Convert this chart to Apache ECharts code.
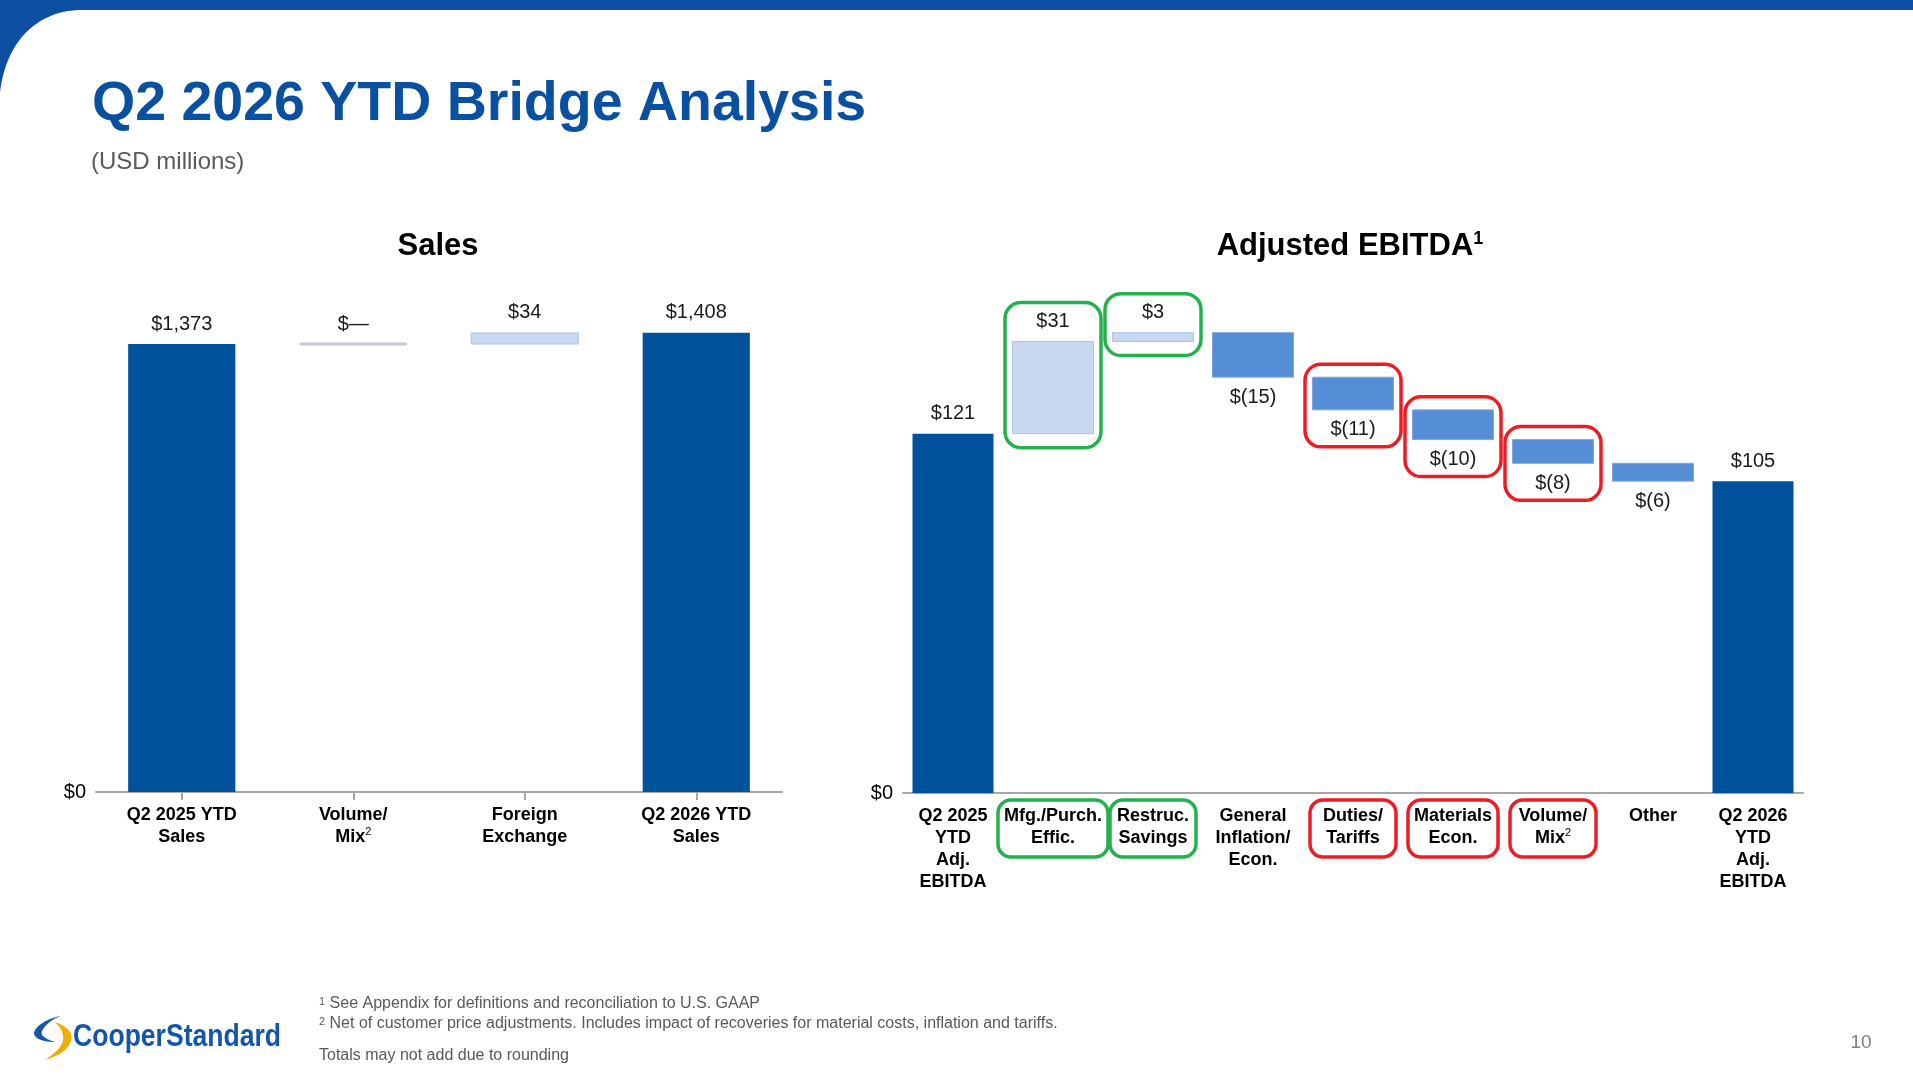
<!DOCTYPE html>
<html>
<head>
<meta charset="utf-8">
<script src="https://cdn.jsdelivr.net/npm/echarts@6/dist/echarts.min.js"></script>
<style>
html,body{margin:0;padding:0;background:#fff;}
#c{width:1913px;height:1074px;}
</style>
</head>
<body>
<div id="c"></div>
<script>
// ---------------- DATA ----------------
const salesCategories = ['Q2 2025 YTD\nSales', 'Volume/\nMix', 'Foreign\nExchange', 'Q2 2026 YTD\nSales'];
const salesFootnoteMarks = ['', '2', '', ''];
const salesStart = 1373;
const salesChanges = [0, 34];
const salesEnd = 1408;

const ebitdaCategories = ['Q2 2025\nYTD\nAdj.\nEBITDA', 'Mfg./Purch.\nEffic.', 'Restruc.\nSavings', 'General\nInflation/\nEcon.', 'Duties/\nTariffs', 'Materials\nEcon.', 'Volume/\nMix', 'Other', 'Q2 2026\nYTD\nAdj.\nEBITDA'];
const ebitdaFootnoteMarks = ['', '', '', '', '', '', '2', '', ''];
const ebitdaStart = 121;
const ebitdaChanges = [31, 3, -15, -11, -10, -8, -6];
const ebitdaEnd = 105;
const ebitdaGreenBoxes = [1, 2];
const ebitdaRedBoxes = [4, 5, 6];

const salesAxisMax = 1600;
const ebitdaAxisMax = 200;

const titleText = 'Q2 2026 YTD Bridge Analysis';
const subtitleText = '(USD millions)';
const footnotes = [
  ['1', 'See Appendix for definitions and reconciliation to U.S. GAAP'],
  ['2', 'Net of customer price adjustments. Includes impact of recoveries for material costs, inflation and tariffs.']
];
const roundingNote = 'Totals may not add due to rounding';
const pageNumber = '10';

// ---------------- HELPERS ----------------
const FONT = '"Liberation Sans", Arial, Helvetica, sans-serif';
const COLORS = { total: '#00529B', up: '#C6D9F1', down: '#558ED5', zero: '#C3CAD4' };
const BORDERS = { total: null, up: '#B2C3DA', down: '#7FA8DF', zero: null };

function fmtTotal(v) { return '$' + v.toLocaleString('en-US'); }
function fmtChange(v) { return v === 0 ? '$\u2014' : (v > 0 ? '$' + v : '$(' + Math.abs(v) + ')'); }

function buildWaterfall(start, changes, end) {
  const rows = [], kinds = [];
  rows.push([0, 0, start]); kinds.push('total');
  let level = start;
  changes.forEach((d, i) => {
    const next = level + d;
    rows.push([i + 1, Math.min(level, next), Math.max(level, next)]);
    kinds.push(d > 0 ? 'up' : (d < 0 ? 'down' : 'zero'));
    level = next;
  });
  rows.push([changes.length + 1, 0, end]); kinds.push('total');
  const labels = [fmtTotal(start)].concat(changes.map(fmtChange)).concat([fmtTotal(end)]);
  return { rows, kinds, labels };
}

const salesWF = buildWaterfall(salesStart, salesChanges, salesEnd);
const ebitdaWF = buildWaterfall(ebitdaStart, ebitdaChanges, ebitdaEnd);

function makeRenderer(wf, ratio) {
  return function (params, api) {
    const i = params.dataIndex;
    const x = api.value(0), lo = api.value(1), hi = api.value(2);
    const pTop = api.coord([x, hi]);
    const pBot = api.coord([x, lo]);
    const bw = api.size([1, 0])[0] * ratio;
    const kind = wf.kinds[i];
    const children = [];
    if (kind === 'zero') {
      children.push({ type: 'rect', shape: { x: pTop[0] - bw / 2, y: pTop[1] - 1.5, width: bw, height: 3 },
        style: { fill: COLORS.zero } });
    } else {
      const st = { fill: COLORS[kind] };
      if (BORDERS[kind]) { st.stroke = BORDERS[kind]; st.lineWidth = 1; }
      children.push({ type: 'rect', shape: { x: pTop[0] - bw / 2, y: pTop[1], width: bw, height: pBot[1] - pTop[1] }, style: st });
    }
    const below = kind === 'down';
    children.push({ type: 'text', x: pTop[0], y: below ? pBot[1] + 20 : pTop[1] - 20,
      style: { text: wf.labels[i], fontSize: 20, fontFamily: FONT, fill: '#1a1a1a', align: 'center', verticalAlign: 'middle' } });
    return { type: 'group', children };
  };
}

function catFormatter(marks, cats) {
  return function (value) {
    const m = marks[cats.indexOf(value)];
    return m ? value + '{sup|' + m + '}' : value;
  };
}

const axisLabelBase = {
  interval: 0, fontSize: 18, fontWeight: 'bold', color: '#000', fontFamily: FONT, lineHeight: 22, margin: 12,
  rich: { sup: { fontSize: 11, fontWeight: 'normal', color: '#000', fontFamily: FONT, verticalAlign: 'top', lineHeight: 22 } }
};

const chart = echarts.init(document.getElementById('c'), null, { renderer: 'canvas' });

const option = {
  animation: false,
  backgroundColor: '#ffffff',
  textStyle: { fontFamily: FONT },
  grid: [
    { left: 96, top: 270, width: 686, height: 522 },
    { left: 903, top: 199, width: 900, height: 594 }
  ],
  xAxis: [
    { type: 'category', gridIndex: 0, data: salesCategories,
      axisLine: { lineStyle: { color: '#A6A6A6', width: 2 } },
      axisTick: { show: true, alignWithLabel: true, length: 8, lineStyle: { color: '#A6A6A6', width: 2 } },
      axisLabel: Object.assign({}, axisLabelBase, { formatter: catFormatter(salesFootnoteMarks, salesCategories) }) },
    { type: 'category', gridIndex: 1, data: ebitdaCategories,
      axisLine: { lineStyle: { color: '#A6A6A6', width: 2 } },
      axisTick: { show: false },
      axisLabel: Object.assign({}, axisLabelBase, { formatter: catFormatter(ebitdaFootnoteMarks, ebitdaCategories) }) }
  ],
  yAxis: [
    { type: 'value', gridIndex: 0, min: 0, max: salesAxisMax, interval: salesAxisMax,
      axisLine: { show: false }, axisTick: { show: false }, splitLine: { show: false },
      axisLabel: { formatter: v => v === 0 ? '$0' : '', fontSize: 20, color: '#000', fontFamily: FONT, margin: 10 } },
    { type: 'value', gridIndex: 1, min: 0, max: ebitdaAxisMax, interval: ebitdaAxisMax,
      axisLine: { show: false }, axisTick: { show: false }, splitLine: { show: false },
      axisLabel: { formatter: v => v === 0 ? '$0' : '', fontSize: 20, color: '#000', fontFamily: FONT, margin: 10 } }
  ],
  series: [
    { type: 'custom', name: 'Sales', xAxisIndex: 0, yAxisIndex: 0, data: salesWF.rows,
      encode: { x: 0, y: [1, 2] }, renderItem: makeRenderer(salesWF, 0.625), clip: false },
    { type: 'custom', name: 'Adjusted EBITDA', xAxisIndex: 1, yAxisIndex: 1, data: ebitdaWF.rows,
      encode: { x: 0, y: [1, 2] }, renderItem: makeRenderer(ebitdaWF, 0.81), clip: false }
  ]
};
chart.setOption(option);

// ---------------- ANNOTATIONS ----------------
const measureCtx = document.createElement('canvas').getContext('2d');
measureCtx.font = 'bold 18px ' + FONT;
function labelWidth(cat) {
  return Math.max.apply(null, cat.split('\n').map(s => measureCtx.measureText(s).width));
}

function px(idx, val) { return chart.convertToPixel({ gridIndex: 1 }, [idx, val]); }
const axisY = px(0, 0)[1];

// sample a shape made of straight points and cubic segments into polygon points
function cubic(p0, c1, c2, p3, n) {
  const pts = [];
  for (let k = 1; k <= n; k++) {
    const t = k / n, u = 1 - t;
    pts.push([
      u * u * u * p0[0] + 3 * u * u * t * c1[0] + 3 * u * t * t * c2[0] + t * t * t * p3[0],
      u * u * u * p0[1] + 3 * u * u * t * c1[1] + 3 * u * t * t * c2[1] + t * t * t * p3[1]
    ]);
  }
  return pts;
}
function shape(start, segs) {
  let pts = [start], cur = start;
  segs.forEach(s => {
    if (s.length === 1) { pts.push(s[0]); cur = s[0]; }
    else { pts = pts.concat(cubic(cur, s[0], s[1], s[2], 24)); cur = s[2]; }
  });
  return pts;
}

const graphics = [];
// top band with curved corner
graphics.push({ type: 'polygon', silent: true, shape: { points: shape([0, 0], [[[1913, 0]], [[1913, 10]], [[78, 10]], [[36, 12], [6, 42], [0, 92]]]) }, style: { fill: '#0B4EA2' } });
// title and subtitle
graphics.push({ type: 'text', x: 92, y: 105, style: { text: titleText, fontSize: 55.5, fontWeight: 'bold', fontFamily: FONT, fill: '#0A50A1', verticalAlign: 'middle' } });
graphics.push({ type: 'text', x: 91, y: 162, style: { text: subtitleText, fontSize: 24, fontFamily: FONT, fill: '#595959', verticalAlign: 'middle' } });
// chart titles
graphics.push({ type: 'text', x: 438, y: 246, style: { text: 'Sales', fontSize: 31, fontWeight: 'bold', fontFamily: FONT, fill: '#000', align: 'center', verticalAlign: 'middle' } });
graphics.push({ type: 'text', x: 1350, y: 246, style: { text: 'Adjusted EBITDA{sup|1}', fontSize: 31, fontWeight: 'bold', fontFamily: FONT, fill: '#000', align: 'center', verticalAlign: 'middle',
  rich: { sup: { fontSize: 18, fontWeight: 'bold', fontFamily: FONT, fill: '#000', verticalAlign: 'top' } } } });

// highlight boxes around bars
function barBox(idx, color) {
  const row = ebitdaWF.rows[idx];
  const kind = ebitdaWF.kinds[idx];
  const top = px(idx, row[2]);
  const bot = px(idx, row[1]);
  let y0, y1;
  if (kind === 'down') { y0 = top[1] - 13; y1 = bot[1] + 37; }
  else { y0 = top[1] - 39; y1 = bot[1] + 14; }
  return { type: 'rect', silent: true, shape: { x: top[0] - 48, y: y0, width: 96, height: y1 - y0, r: 16 },
    style: { fill: 'none', stroke: color, lineWidth: 3.5 } };
}
function labelBox(idx, color) {
  const c = px(idx, 0);
  const w = Math.max(labelWidth(ebitdaCategories[idx]) + 12, 86);
  return { type: 'rect', silent: true, shape: { x: c[0] - w / 2, y: axisY + 7, width: w, height: 57, r: 13 },
    style: { fill: 'none', stroke: color, lineWidth: 3.5 } };
}
ebitdaGreenBoxes.forEach(i => { graphics.push(barBox(i, '#22B14C')); graphics.push(labelBox(i, '#22B14C')); });
ebitdaRedBoxes.forEach(i => { graphics.push(barBox(i, '#ED1C24')); graphics.push(labelBox(i, '#ED1C24')); });

// footnotes
const fnRich = { sup: { fontSize: 11, fontFamily: FONT, fill: '#595959', verticalAlign: 'top' } };
footnotes.forEach((f, k) => {
  graphics.push({ type: 'text', x: 319, y: 1004 + k * 20, style: { text: '{sup|' + f[0] + '} ' + f[1], fontSize: 16, fontFamily: FONT, fill: '#595959', verticalAlign: 'middle', rich: fnRich } });
});
graphics.push({ type: 'text', x: 319, y: 1056, style: { text: roundingNote, fontSize: 16, fontFamily: FONT, fill: '#595959', verticalAlign: 'middle' } });
// page number
graphics.push({ type: 'text', x: 1861, y: 1043, style: { text: pageNumber, fontSize: 19, fontFamily: FONT, fill: '#7F7F7F', align: 'center', verticalAlign: 'middle' } });

// logo
graphics.push({ type: 'polygon', silent: true, shape: { points: shape([61, 1016], [[[48, 1018], [35, 1026], [34, 1033]], [[34, 1039], [44, 1042], [55, 1042]], [[45, 1039], [40, 1035], [42, 1031]], [[45, 1025], [52, 1019], [61, 1016]]]) }, style: { fill: '#1756A9' } });
graphics.push({ type: 'polygon', silent: true, shape: { points: shape([54, 1022], [[[65, 1025], [74, 1032], [71, 1041]], [[68, 1050], [58, 1056], [45, 1060]], [[55, 1053], [62, 1047], [63, 1040]], [[64, 1033], [60, 1026], [54, 1022]]]) }, style: { fill: '#F2AE00' } });
graphics.push({ type: 'text', x: 73, y: 1037, scaleX: 0.83, style: { text: 'CooperStandard', fontSize: 32, fontWeight: 'bold', fontFamily: FONT, fill: '#1356A8', verticalAlign: 'middle' } });

chart.setOption({ graphic: graphics });
</script>
</body>
</html>
